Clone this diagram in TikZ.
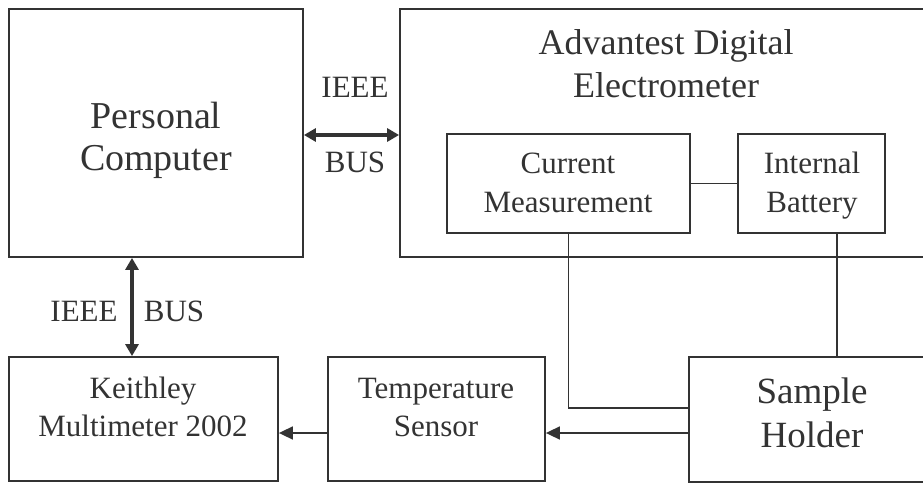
\documentclass[tikz,border=0pt]{standalone}
\usepackage{fontspec}
\setmainfont{Liberation Serif}
\usetikzlibrary{arrows.meta,calc}
\definecolor{ink}{HTML}{333333}
\begin{document}
\begin{tikzpicture}[x=1pt,y=-1pt,
  box/.style={draw=ink, line width=1.8pt, inner sep=0pt},
  lbl/.style={text=ink, align=center, inner sep=0pt, anchor=base},
  wire/.style={draw=ink, line width=1.7pt},
  sig/.style={draw=ink, line width=1.7pt, -{Triangle[length=14pt,width=13pt]}},
  bus/.style={draw=ink, line width=3.4pt, {Triangle[length=12pt,width=13pt]}-{Triangle[length=12pt,width=13pt]}}]
\useasboundingbox (0,0) rectangle (923,484);
\clip (0,0) rectangle (923,484);
% boxes
\node[box, minimum width=294pt, minimum height=248pt] (pc) at (156,133) {};
\node[box, minimum width=535pt, minimum height=248pt] (ade) at (667.5,133) {};
\node[box, minimum width=243pt, minimum height=99pt] (cm) at (568.5,183.5) {};
\node[box, minimum width=147pt, minimum height=99pt] (ib) at (811.5,183.5) {};
\node[box, minimum width=269pt, minimum height=124pt] (km) at (143.5,419) {};
\node[box, minimum width=217pt, minimum height=124pt] (ts) at (436.5,419) {};
\node[box, minimum width=246pt, minimum height=125pt] (sh) at (812,419.5) {};
% texts (anchor base = baseline of the last line)
\node[lbl, font=\fontsize{38}{42}\selectfont] (tpc) at (156,170) {Personal\\Computer};
\node[lbl, font=\fontsize{36}{43}\selectfont] (tade) at (666,98) {Advantest Digital\\Electrometer};
\node[lbl, font=\fontsize{31}{39}\selectfont] (tcm) at (568,212) {Current\\Measurement};
\node[lbl, font=\fontsize{31}{39}\selectfont] (tib) at (812,212) {Internal\\Battery};
\node[lbl, font=\fontsize{31}{38}\selectfont] (tkm) at (143,436) {Keithley\\Multimeter 2002};
\node[lbl, font=\fontsize{31}{38}\selectfont] (tts) at (436,436) {Temperature\\Sensor};
\node[lbl, font=\fontsize{37}{44}\selectfont] (tsh) at (812,447) {Sample\\Holder};
\node[lbl, font=\fontsize{31}{31}\selectfont] (i1) at (355,98) {IEEE};
\node[lbl, font=\fontsize{31}{31}\selectfont] (b1) at (355,172) {BUS};
\node[lbl, font=\fontsize{31}{31}\selectfont] (i2) at (84,321) {IEEE};
\node[lbl, font=\fontsize{31}{31}\selectfont] (b2) at (174,321) {BUS};
% connectors
\coordinate (pcb) at ($(pc.east)+(0,2)$);
\draw[bus] (pcb) -- (pcb -| ade.west);
\coordinate (pcs) at ($(pc.south)+(-24,0)$);
\draw[bus] (pcs) -- (pcs |- km.north);
\draw[wire] (cm.east) -- (ib.west);
\coordinate (shw) at ($(sh.west)+(0,-11.5)$);
\draw[wire] (cm.south) |- (shw);
\coordinate (ibs) at ($(ib.south)+(25.5,0)$);
\draw[wire] (ibs) -- (ibs |- sh.north);
\coordinate (sha) at ($(sh.west)+(0,13.5)$);
\draw[sig] (sha) -- (sha -| ts.east);
\coordinate (tsa) at ($(ts.west)+(0,14)$);
\draw[sig] (tsa) -- (tsa -| km.east);
\end{tikzpicture}
\end{document}
